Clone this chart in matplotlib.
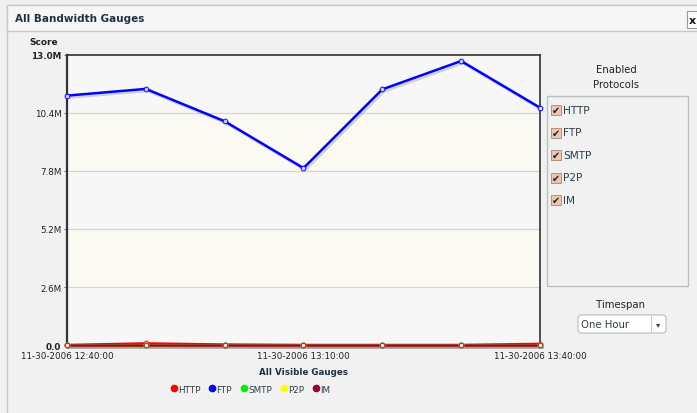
import matplotlib
matplotlib.use('Agg')
import matplotlib.pyplot as plt
import matplotlib.patheffects as pe
from matplotlib.patches import Rectangle, FancyBboxPatch

# data (values in millions)
times = ['11-30-2006 12:40:00', '12:50', '13:00', '11-30-2006 13:10:00',
         '13:20', '13:30', '11-30-2006 13:40:00']
http = [0.0, 0.07, 0.02, 0.0, 0.0, 0.0, 0.05]
ftp = [11.18, 11.48, 10.03, 7.93, 11.46, 12.73, 10.64]
smtp = [0.0, 0.0, 0.0, 0.0, 0.0, 0.0, 0.0]
p2p = [0.0, 0.0, 0.0, 0.0, 0.0, 0.0, 0.0]
im = [0.0, 0.0, 0.0, 0.0, 0.0, 0.0, 0.0]
series_names = ['HTTP', 'FTP', 'SMTP', 'P2P', 'IM']
series_colors = ['#ff0000', '#0000ff', '#00ee00', '#ffff00', '#990033']
yticks = [0, 2.6, 5.2, 7.8, 10.4, 13.0]
ytick_labels = ['0.0', '2.6M', '5.2M', '7.8M', '10.4M', '13.0M']
xtick_idx = [0, 3, 6]
protocols = ['HTTP', 'FTP', 'SMTP', 'P2P', 'IM']

W, H = 697, 414
fig = plt.figure(figsize=(W / 100, H / 100), dpi=100)
fig.patch.set_facecolor('#f0f0f0')

# overlay axes in pixel coords for the window chrome
bg = fig.add_axes([0, 0, 1, 1], zorder=-1)
bg.set_xlim(0, W)
bg.set_ylim(H, 0)
bg.axis('off')
bg.add_patch(Rectangle((7, 6), 700, 420, facecolor='#f1f1f1', edgecolor='#c8c8c8', lw=1))
bg.add_patch(Rectangle((7, 6), 700, 26, facecolor='#f6f6f6', edgecolor='#c8c8c8', lw=1))
bg.text(15, 19, 'All Bandwidth Gauges', fontsize=7.5, fontweight='bold',
        color='#1d3344', va='center', ha='left')
bg.add_patch(Rectangle((687, 12), 14, 17, facecolor='#fafafa', edgecolor='#999999', lw=0.8))
bg.text(692, 20.5, 'x', fontsize=8, fontweight='bold', color='#111111', va='center', ha='center')

# right side panel
bg.text(616, 70, 'Enabled', fontsize=7.3, color='#222222', ha='center', va='center')
bg.text(616, 85, 'Protocols', fontsize=7.3, color='#222222', ha='center', va='center')
bg.add_patch(Rectangle((547, 97), 141, 190, facecolor='#f1f1f1', edgecolor='#b9c2c2', lw=1))
for i, p in enumerate(protocols):
    y = 111 + i * 22.5
    bg.add_patch(Rectangle((551, y - 5), 10, 10, facecolor='#e9c7b2', edgecolor='#b88e78', lw=0.7))
    bg.text(556, y, '\u2714', fontsize=7, color='#222222', ha='center', va='center')
    bg.text(563, y, p, fontsize=7.6, color='#2a3f4a', ha='left', va='center')
bg.text(621, 305, 'Timespan', fontsize=7.3, color='#222222', ha='center', va='center')
bg.add_patch(FancyBboxPatch((578, 316), 88, 18, boxstyle='round,pad=0,rounding_size=3',
                            facecolor='white', edgecolor='#bbbbbb', lw=0.8))
bg.plot([651, 651], [317, 333], color='#cccccc', lw=0.8)
bg.text(581, 325, 'One Hour', fontsize=7.3, color='#2a3f4a', ha='left', va='center')
bg.text(658.5, 325, '\u25BE', fontsize=6, color='#444444', ha='center', va='center')

# main plot
ax = fig.add_axes([67 / W, 1 - 346 / H, 473 / W, 290 / H])
x = list(range(len(times)))
ax.set_xlim(0, len(times) - 1)
ax.set_ylim(0, 13.0)
for i in range(len(yticks) - 1):
    ax.axhspan(yticks[i], yticks[i + 1], color='#f7f7f7' if i % 2 == 0 else '#fafaf2', zorder=0)
for y in yticks[1:-1]:
    ax.axhline(y, color='#d4d4d4', lw=0.9, zorder=1)

shadow = [pe.SimpleLineShadow(offset=(1.2, -1.5), shadow_color='#888888', alpha=0.35), pe.Normal()]
for name, vals, col in zip(series_names, [http, ftp, smtp, p2p, im], series_colors):
    ax.plot(x, vals, color=col, lw=1.8, path_effects=shadow, zorder=3, clip_on=False)
    ax.plot(x, vals, ls='none', marker='o', ms=3.3, mfc='white', mec=col, mew=0.9,
            alpha=0.8, zorder=4, clip_on=False)

for s in ax.spines.values():
    s.set_color('#333333')
    s.set_linewidth(1.2)
ax.spines['bottom'].set_linewidth(2)
ax.spines['left'].set_linewidth(1.6)

ax.set_yticks(yticks)
ax.set_yticklabels(ytick_labels, fontsize=6.3, color='#222222')
for i in (0, len(yticks) - 1):
    ax.get_yticklabels()[i].set_fontweight('bold')
ax.set_xticks(xtick_idx)
ax.set_xticklabels([times[i] for i in xtick_idx], fontsize=6.3, color='#222222')
ax.tick_params(length=2, width=0.6, pad=2, colors='#555555', labelcolor='#222222')
ax.text(-0.08, 1.03, 'Score', transform=ax.transAxes, fontsize=6.5, fontweight='bold',
        color='#222222', ha='left', va='bottom')
ax.text(0.5, -0.092, 'All Visible Gauges', transform=ax.transAxes, fontsize=6.3,
        fontweight='bold', color='#1d3344', ha='center', va='center')

# legend row under the chart
legend_x = [174, 212, 244, 284, 316]
for lx, name, col in zip(legend_x, series_names, series_colors):
    bg.plot(lx, 389, 'o', ms=4.5, color=col)
    bg.text(lx + 4, 391, name, fontsize=6.3, color='#2a3f4a', ha='left', va='center')

fig.savefig('out.png', dpi=100, facecolor=fig.get_facecolor())
